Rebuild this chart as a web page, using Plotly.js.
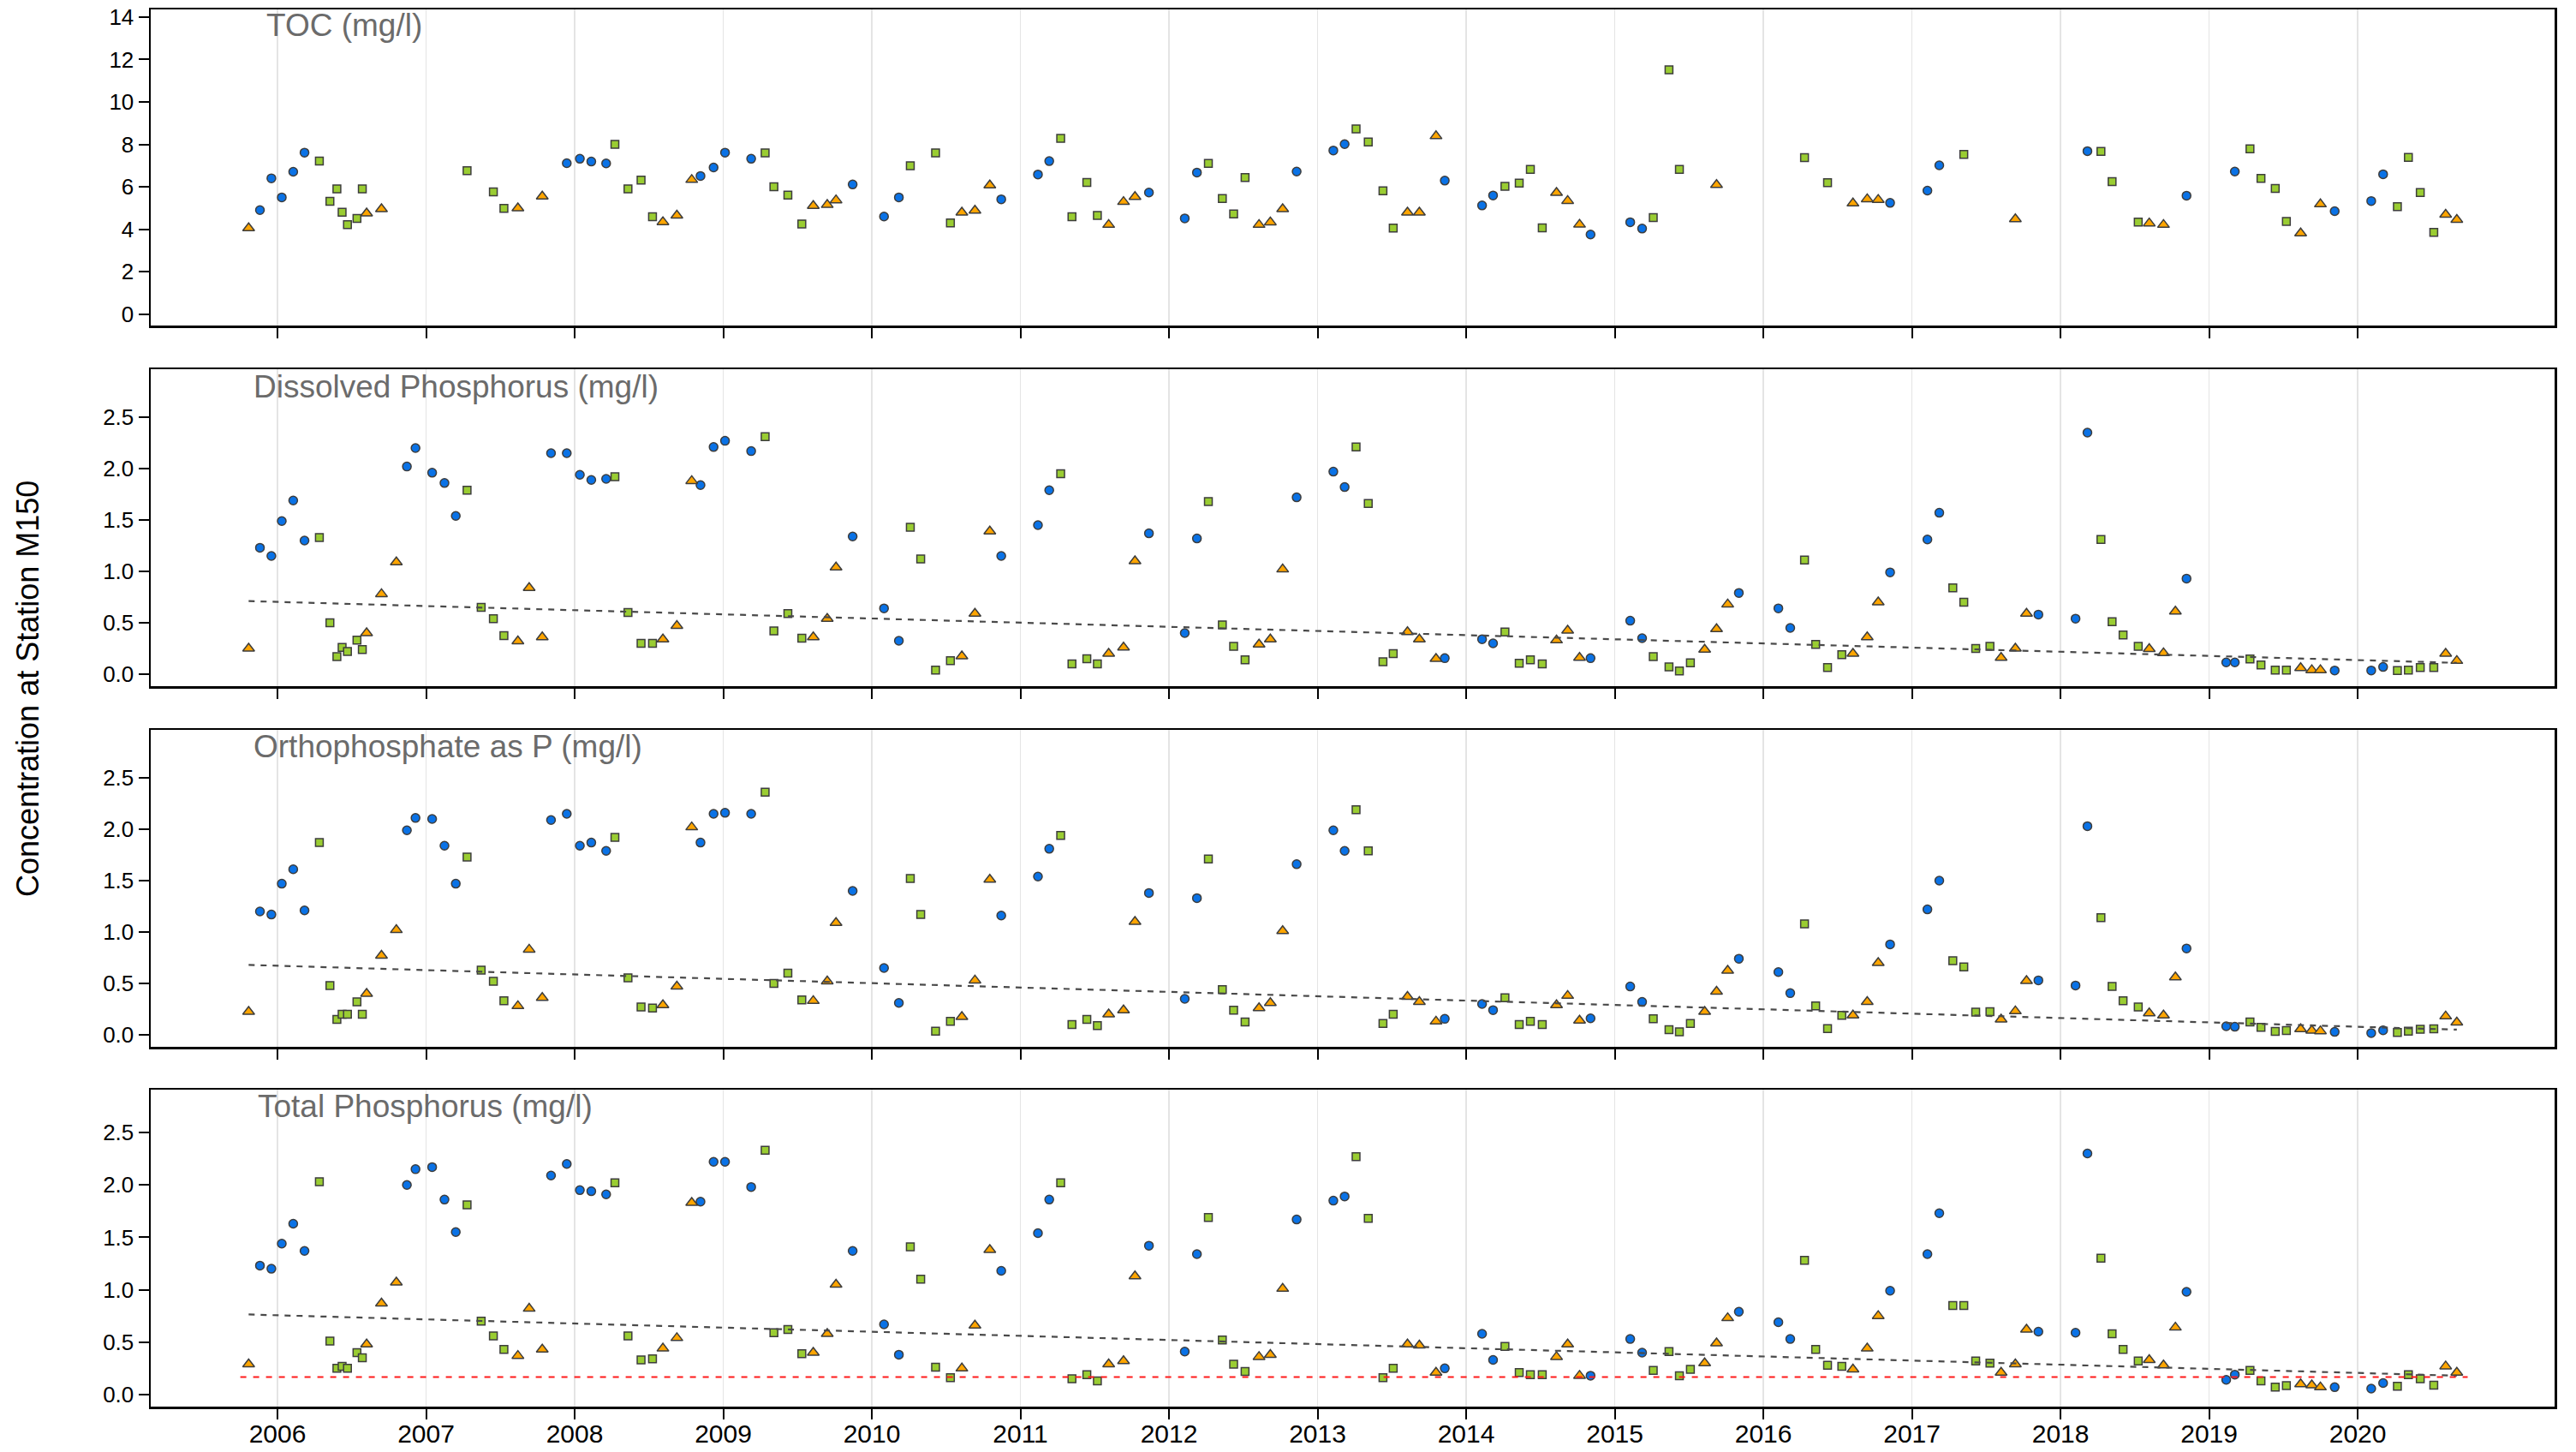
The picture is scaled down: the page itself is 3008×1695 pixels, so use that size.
<!DOCTYPE html>
<html><head><meta charset="utf-8">
<script src="https://cdn.plot.ly/plotly-3.0.1.min.js"></script>
<style>html,body{margin:0;padding:0;background:#fff}#chart{width:3008px;height:1695px}</style>
</head><body><div id="chart"></div>
<script>
// Sampling dates (decimal years), shared by all four panels
const dates = [
 2005.806,2005.882,2005.959,2006.029,2006.106,2006.182,2006.282,2006.353,2006.400,2006.435,
 2006.471,2006.535,2006.571,2006.600,2006.700,2006.800,2006.871,2006.929,2007.041,2007.124,
 2007.200,2007.276,2007.371,2007.453,2007.524,2007.618,2007.694,2007.782,2007.841,2007.947,
 2008.035,2008.112,2008.212,2008.271,2008.359,2008.447,2008.524,2008.594,2008.688,2008.788,
 2008.847,2008.935,2009.012,2009.188,2009.282,2009.341,2009.435,2009.529,2009.606,2009.700,
 2009.759,2009.871,2010.082,2010.182,2010.259,2010.329,2010.429,2010.529,2010.606,2010.694,
 2010.794,2010.871,2011.118,2011.194,2011.271,2011.347,2011.447,2011.518,2011.594,2011.694,
 2011.771,2011.865,2012.106,2012.188,2012.265,2012.359,2012.435,2012.512,2012.606,2012.682,
 2012.765,2012.859,2013.106,2013.182,2013.259,2013.341,2013.440,2013.509,2013.605,2013.685,
 2013.797,2013.856,2014.107,2014.181,2014.261,2014.357,2014.432,2014.512,2014.608,2014.683,
 2014.763,2014.837,2015.104,2015.184,2015.259,2015.365,2015.435,2015.509,2015.605,2015.685,
 2015.760,2015.835,2016.101,2016.181,2016.277,2016.352,2016.432,2016.528,2016.603,2016.699,
 2016.773,2016.853,2017.104,2017.184,2017.275,2017.349,2017.429,2017.525,2017.600,2017.696,
 2017.771,2017.851,2018.101,2018.181,2018.272,2018.347,2018.421,2018.523,2018.597,2018.693,
 2018.773,2018.848,2019.115,2019.173,2019.275,2019.349,2019.445,2019.520,2019.616,2019.691,
 2019.749,2019.845,2020.091,2020.171,2020.267,2020.341,2020.421,2020.512,2020.592,2020.667];

// Season of each sample: c = winter (circle), s = spring/summer (square), t = late summer/autumn (triangle)
const season = (
 "tcccccsssssssttt" + "cccccssssttt" + "cccccssssttt" + "ccccssssttt" +
 "cccssssttt" + "cccssssttt" + "cccssssttt" + "cccssssttt" + "cccssssttt" +
 "cccssssttt" + "cccssssttt" + "cccssssttt" + "cccssssttt" + "cccssssttt" +
 "cccsssstt").split("");

const toc = [
 4.05,4.90,6.40,5.50,6.71,7.61,7.21,5.31,5.90,4.80,
 4.21,4.51,5.90,4.75,4.95,null,null,null,null,null,
 null,6.76,null,5.76,4.98,4.99,null,5.55,null,7.11,
 7.32,7.19,7.10,8.00,5.90,6.31,4.59,4.34,4.65,6.33,
 6.51,6.91,7.61,7.32,7.60,6.00,5.61,4.25,5.10,5.15,
 5.37,6.11,4.60,5.50,6.99,null,7.60,4.30,4.79,4.88,
 6.07,5.41,6.58,7.21,8.28,4.59,6.20,4.65,4.21,5.29,
 5.53,5.73,4.51,6.67,7.10,5.45,4.72,6.44,4.21,4.33,
 4.95,6.72,7.71,8.01,8.73,8.11,5.81,4.05,4.79,4.79,
 8.39,6.29,5.12,5.59,6.02,6.17,6.82,4.06,5.72,5.34,
 4.22,3.75,4.33,4.03,4.55,11.51,6.82,null,null,6.09,
 null,null,null,null,7.37,null,6.19,null,5.22,5.42,
 5.39,5.24,5.82,7.01,null,7.53,null,null,null,4.48,
 null,null,null,7.68,7.67,6.24,null,4.34,4.28,4.21,
 null,5.58,null,6.72,7.79,6.40,5.92,4.37,3.81,null,
 5.18,4.85,5.33,6.59,5.06,7.38,5.73,3.85,4.69,4.45];

const dissolvedP = [
 0.25,1.23,1.15,1.49,1.69,1.30,1.33,0.50,0.17,0.26,
 0.22,0.33,0.24,0.40,0.78,1.09,2.02,2.20,1.96,1.86,
 1.54,1.79,0.65,0.54,0.375,0.32,0.84,0.36,2.15,2.15,
 1.94,1.89,1.90,1.92,0.60,0.30,0.30,0.34,0.47,1.88,
 1.84,2.21,2.27,2.17,2.31,0.42,0.59,0.35,0.36,0.54,
 1.04,1.34,0.64,0.325,1.43,1.12,0.04,0.13,0.175,0.59,
 1.39,1.15,1.45,1.79,1.95,0.10,0.15,0.10,0.20,0.26,
 1.10,1.37,0.40,1.32,1.68,0.48,0.27,0.14,0.29,0.34,
 1.02,1.72,1.97,1.82,2.21,1.66,0.12,0.20,0.41,0.34,
 0.15,0.155,0.34,0.30,0.41,0.105,0.14,0.10,0.33,0.425,
 0.16,0.155,0.52,0.35,0.17,0.07,0.03,0.11,0.24,0.44,
 0.68,0.79,0.64,0.45,1.11,0.29,0.064,0.19,0.20,0.36,
 0.70,0.99,1.31,1.57,0.84,0.70,0.25,0.27,0.16,0.25,
 0.59,0.58,0.54,2.35,1.31,0.51,0.38,0.27,0.245,0.205,
 0.61,0.93,0.114,0.114,0.147,0.09,0.04,0.04,0.06,0.04,
 0.04,0.036,0.036,0.07,0.036,0.04,0.064,0.064,0.20,0.13];

const orthoP = [
 0.225,1.20,1.17,1.47,1.61,1.21,1.87,0.48,0.15,0.20,
 0.20,0.32,0.20,0.40,0.77,1.02,1.99,2.11,2.10,1.84,
 1.47,1.73,0.63,0.52,0.33,0.28,0.83,0.36,2.09,2.15,
 1.84,1.87,1.79,1.92,0.555,0.27,0.26,0.29,0.47,2.02,
 1.87,2.15,2.16,2.15,2.36,0.50,0.60,0.34,0.33,0.52,
 1.09,1.40,0.65,0.31,1.52,1.17,0.036,0.13,0.175,0.53,
 1.51,1.16,1.54,1.81,1.94,0.10,0.15,0.09,0.20,0.24,
 1.10,1.38,0.35,1.33,1.71,0.44,0.24,0.125,0.26,0.31,
 1.01,1.66,1.99,1.79,2.19,1.79,0.11,0.20,0.37,0.32,
 0.13,0.155,0.30,0.24,0.36,0.10,0.13,0.10,0.29,0.38,
 0.14,0.16,0.47,0.32,0.155,0.05,0.028,0.11,0.225,0.42,
 0.625,0.74,0.61,0.405,1.08,0.28,0.06,0.19,0.19,0.32,
 0.70,0.88,1.22,1.50,0.72,0.66,0.22,0.225,0.15,0.23,
 0.525,0.53,0.48,2.03,1.14,0.47,0.33,0.27,0.21,0.19,
 0.56,0.84,0.083,0.078,0.125,0.072,0.033,0.042,0.056,0.042,
 0.036,0.028,0.017,0.044,0.022,0.036,0.053,0.058,0.18,0.12];

const totalP = [
 0.29,1.23,1.20,1.44,1.63,1.37,2.03,0.51,0.25,0.27,
 0.25,0.40,0.35,0.48,0.87,1.07,2.00,2.15,2.17,1.86,
 1.55,1.81,0.70,0.56,0.43,0.37,0.82,0.43,2.09,2.20,
 1.95,1.94,1.91,2.02,0.56,0.33,0.34,0.44,0.54,1.83,
 1.84,2.22,2.22,1.98,2.33,0.59,0.62,0.39,0.40,0.58,
 1.05,1.37,0.67,0.38,1.41,1.10,0.26,0.16,0.25,0.66,
 1.38,1.18,1.54,1.86,2.02,0.15,0.19,0.13,0.29,0.32,
 1.13,1.42,0.41,1.34,1.69,0.52,0.29,0.22,0.36,0.38,
 1.01,1.67,1.85,1.89,2.27,1.68,0.16,0.25,0.48,0.47,
 0.21,0.25,0.58,0.33,0.46,0.21,0.19,0.19,0.36,0.48,
 0.18,0.18,0.53,0.40,0.23,0.41,0.18,0.24,0.30,0.49,
 0.73,0.79,0.69,0.53,1.28,0.43,0.28,0.27,0.24,0.44,
 0.75,0.99,1.34,1.73,0.85,0.85,0.32,0.30,0.21,0.29,
 0.62,0.60,0.59,2.30,1.30,0.58,0.43,0.32,0.33,0.28,
 0.64,0.98,0.14,0.19,0.23,0.13,0.07,0.085,0.10,0.09,
 0.07,0.07,0.057,0.11,0.08,0.19,0.15,0.09,0.27,0.21];

// Trend lines (value at first and last sample date)
const trendDissolved = [0.711, 0.110];
const trendOrtho = [0.680, 0.050];
const trendTotal = [0.764, 0.180];
// Total phosphorus reference level
const tpLimit = 0.167;
const tpLimitSpan = [2005.75, 2020.74];

const panelTitles = ["TOC (mg/l)", "Dissolved Phosphorus (mg/l)", "Orthophosphate as P (mg/l)", "Total Phosphorus (mg/l)"];
const yearTicks = [2006,2007,2008,2009,2010,2011,2012,2013,2014,2015,2016,2017,2018,2019,2020];
const tocTicks = [0,2,4,6,8,10,12,14];
const pTicks = [0,0.5,1,1.5,2,2.5];

// ---------- drawing ----------
const W = 3008, H = 1695;
const FONT = "Liberation Sans, Arial, Helvetica, sans-serif";
const panelPx = [[11,380],[431,801],[852,1222],[1272,1642]];
const yRanges = [[-0.54,14.36],[-0.117,2.967],[-0.117,2.967],[-0.115,2.909]];
const titlePx = [[309,7],[294,429],[294,849],[299,1269]];
const series = [toc, dissolvedP, orthoP, totalP];
const styles = {
  c: {symbol:'circle', color:'#0a72e6', size:10},
  s: {symbol:'square', color:'#9acd32', size:9},
  t: {symbol:'triangle-up', color:'#ffa500', size:12}
};

const traces = [];
series.forEach((vals, p) => {
  const k = p + 1;
  ['c','s','t'].forEach(code => {
    const xs = [], ys = [];
    dates.forEach((d, i) => {
      if (season[i] === code && vals[i] !== null) { xs.push(d); ys.push(vals[i]); }
    });
    const st = styles[code];
    traces.push({
      type:'scatter', mode:'markers', x:xs, y:ys,
      xaxis:'x'+k, yaxis:'y'+k, showlegend:false, hoverinfo:'x+y',
      marker:{symbol:st.symbol, color:st.color, size:st.size, line:{color:'#3d3d3d', width:1.5}}
    });
  });
});
const first = dates[0], last = dates[dates.length-1];
[[trendDissolved,2],[trendOrtho,3],[trendTotal,4]].forEach(([tr,k]) => {
  traces.push({type:'scatter', mode:'lines', x:[first,last], y:tr, xaxis:'x'+k, yaxis:'y'+k,
    showlegend:false, hoverinfo:'skip', line:{color:'#4a4a4a', width:2.2, dash:'7px,7px'}});
});
traces.push({type:'scatter', mode:'lines', x:tpLimitSpan, y:[tpLimit,tpLimit], xaxis:'x4', yaxis:'y4',
  showlegend:false, hoverinfo:'skip', line:{color:'#ff1a1a', width:2.2, dash:'7px,8px'}});

const layout = {
  width:W, height:H, margin:{l:0,r:0,t:0,b:0},
  paper_bgcolor:'#fff', plot_bgcolor:'#fff', showlegend:false,
  font:{family:FONT, color:'#000'},
  annotations:[]
};
const xDom = [176/W, 2983/W];
for (let p = 0; p < 4; p++) {
  const k = p + 1;
  const [top, bot] = panelPx[p];
  layout['xaxis'+k] = {
    domain:xDom, anchor:'y'+k, range:[2005.147, 2021.325],
    tickmode:'array', tickvals:yearTicks, ticktext:yearTicks.map(String),
    showticklabels: p === 3, tickfont:{size:30, family:FONT, color:'#000'},
    ticklabelstandoff: -9,
    ticks:'outside', ticklen:12, tickwidth:2, tickcolor:'#000',
    showgrid:true, gridcolor:'#e4e4e4', gridwidth:1.6, zeroline:false,
    showline:true, linecolor:'#000', linewidth:2.5, mirror:true
  };
  const tv = p === 0 ? tocTicks : pTicks;
  layout['yaxis'+k] = {
    domain:[1 - bot/H, 1 - top/H], anchor:'x'+k, range:yRanges[p],
    tickmode:'array', tickvals:tv, ticktext: p === 0 ? tv.map(String) : tv.map(v => v.toFixed(1)),
    tickfont:{size:26, family:FONT, color:'#000'},
    ticks:'outside', ticklen:12, tickwidth:2, tickcolor:'#000',
    showgrid:false, zeroline:false,
    showline:true, linecolor:'#000', linewidth:2.5, mirror:true
  };
  layout.annotations.push({
    xref:'paper', yref:'paper', x:titlePx[p][0]/W, y:1 - titlePx[p][1]/H,
    xanchor:'left', yanchor:'top', showarrow:false, text:panelTitles[p],
    font:{size:37, family:FONT, color:'#6b6b6b'}
  });
}
layout.annotations.push({
  xref:'paper', yref:'paper', x:33/W, y:1 - 804/H, xanchor:'center', yanchor:'middle',
  showarrow:false, textangle:-90, text:'Concentration at Station M150',
  font:{size:36, family:FONT, color:'#000'}
});

Plotly.newPlot('chart', traces, layout, {staticPlot:true, displayModeBar:false});
</script>
</body></html>
